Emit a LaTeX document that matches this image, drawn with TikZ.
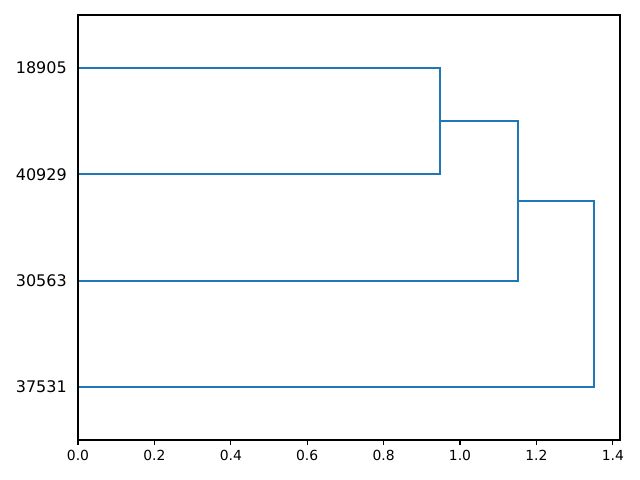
\documentclass[tikz,border=0pt]{standalone}
\usepackage{fontspec}
\setmainfont{DejaVu Sans}
\definecolor{mplblue}{HTML}{1F77B4}
\begin{document}
\begin{tikzpicture}[x=0.72pt,y=-0.72pt,
  link/.style={draw=mplblue,line width=1.5pt,line join=miter},
  frame/.style={draw=black,line width=0.8pt},
  tick/.style={draw=black,line width=0.8pt},
  ticklab/.style={font=\fontsize{10}{12}\selectfont,anchor=north,inner sep=0pt},
  leaflab/.style={font=\fontsize{11.5}{13}\selectfont,anchor=east,inner sep=0pt}]
\useasboundingbox (0,0) rectangle (640,480);
% leaves
\coordinate (l1) at (78,68.1);
\coordinate (l2) at (78,174.4);
\coordinate (l3) at (78,280.6);
\coordinate (l4) at (78,386.9);
% joins
\coordinate (a1) at (439.9,68.1);
\coordinate (a2) at (439.9,174.4);
\coordinate (am) at (439.9,121.25);
\coordinate (b1) at (518.2,121.25);
\coordinate (b2) at (518.2,280.6);
\coordinate (bm) at (518.2,200.9);
\coordinate (c1) at (593.8,200.9);
\coordinate (c2) at (593.8,386.9);
\draw[link] (l1) -- (a1) -- (a2) -- (l2);
\draw[link] (am) -- (b1) -- (b2) -- (l3);
\draw[link] (bm) -- (c1) -- (c2) -- (l4);
% frame
\draw[frame] (78,15) rectangle (620,440);
% leaf labels
\node[leaflab] (t1) at (67,68.1) {18905};
\node[leaflab] (t2) at (67,174.4) {40929};
\node[leaflab] (t3) at (67,280.6) {30563};
\node[leaflab] (t4) at (67,386.9) {37531};
% x ticks
\foreach \v/\lab in {0/0.0,1/0.2,2/0.4,3/0.6,4/0.8,5/1.0,6/1.2,7/1.4}{
  \draw[tick] (78+76.4*\v,440) -- (78+76.4*\v,444.9);
  \node[ticklab] (x\v) at (78+76.4*\v,449.8) {\lab};
}
\end{tikzpicture}
\end{document}
